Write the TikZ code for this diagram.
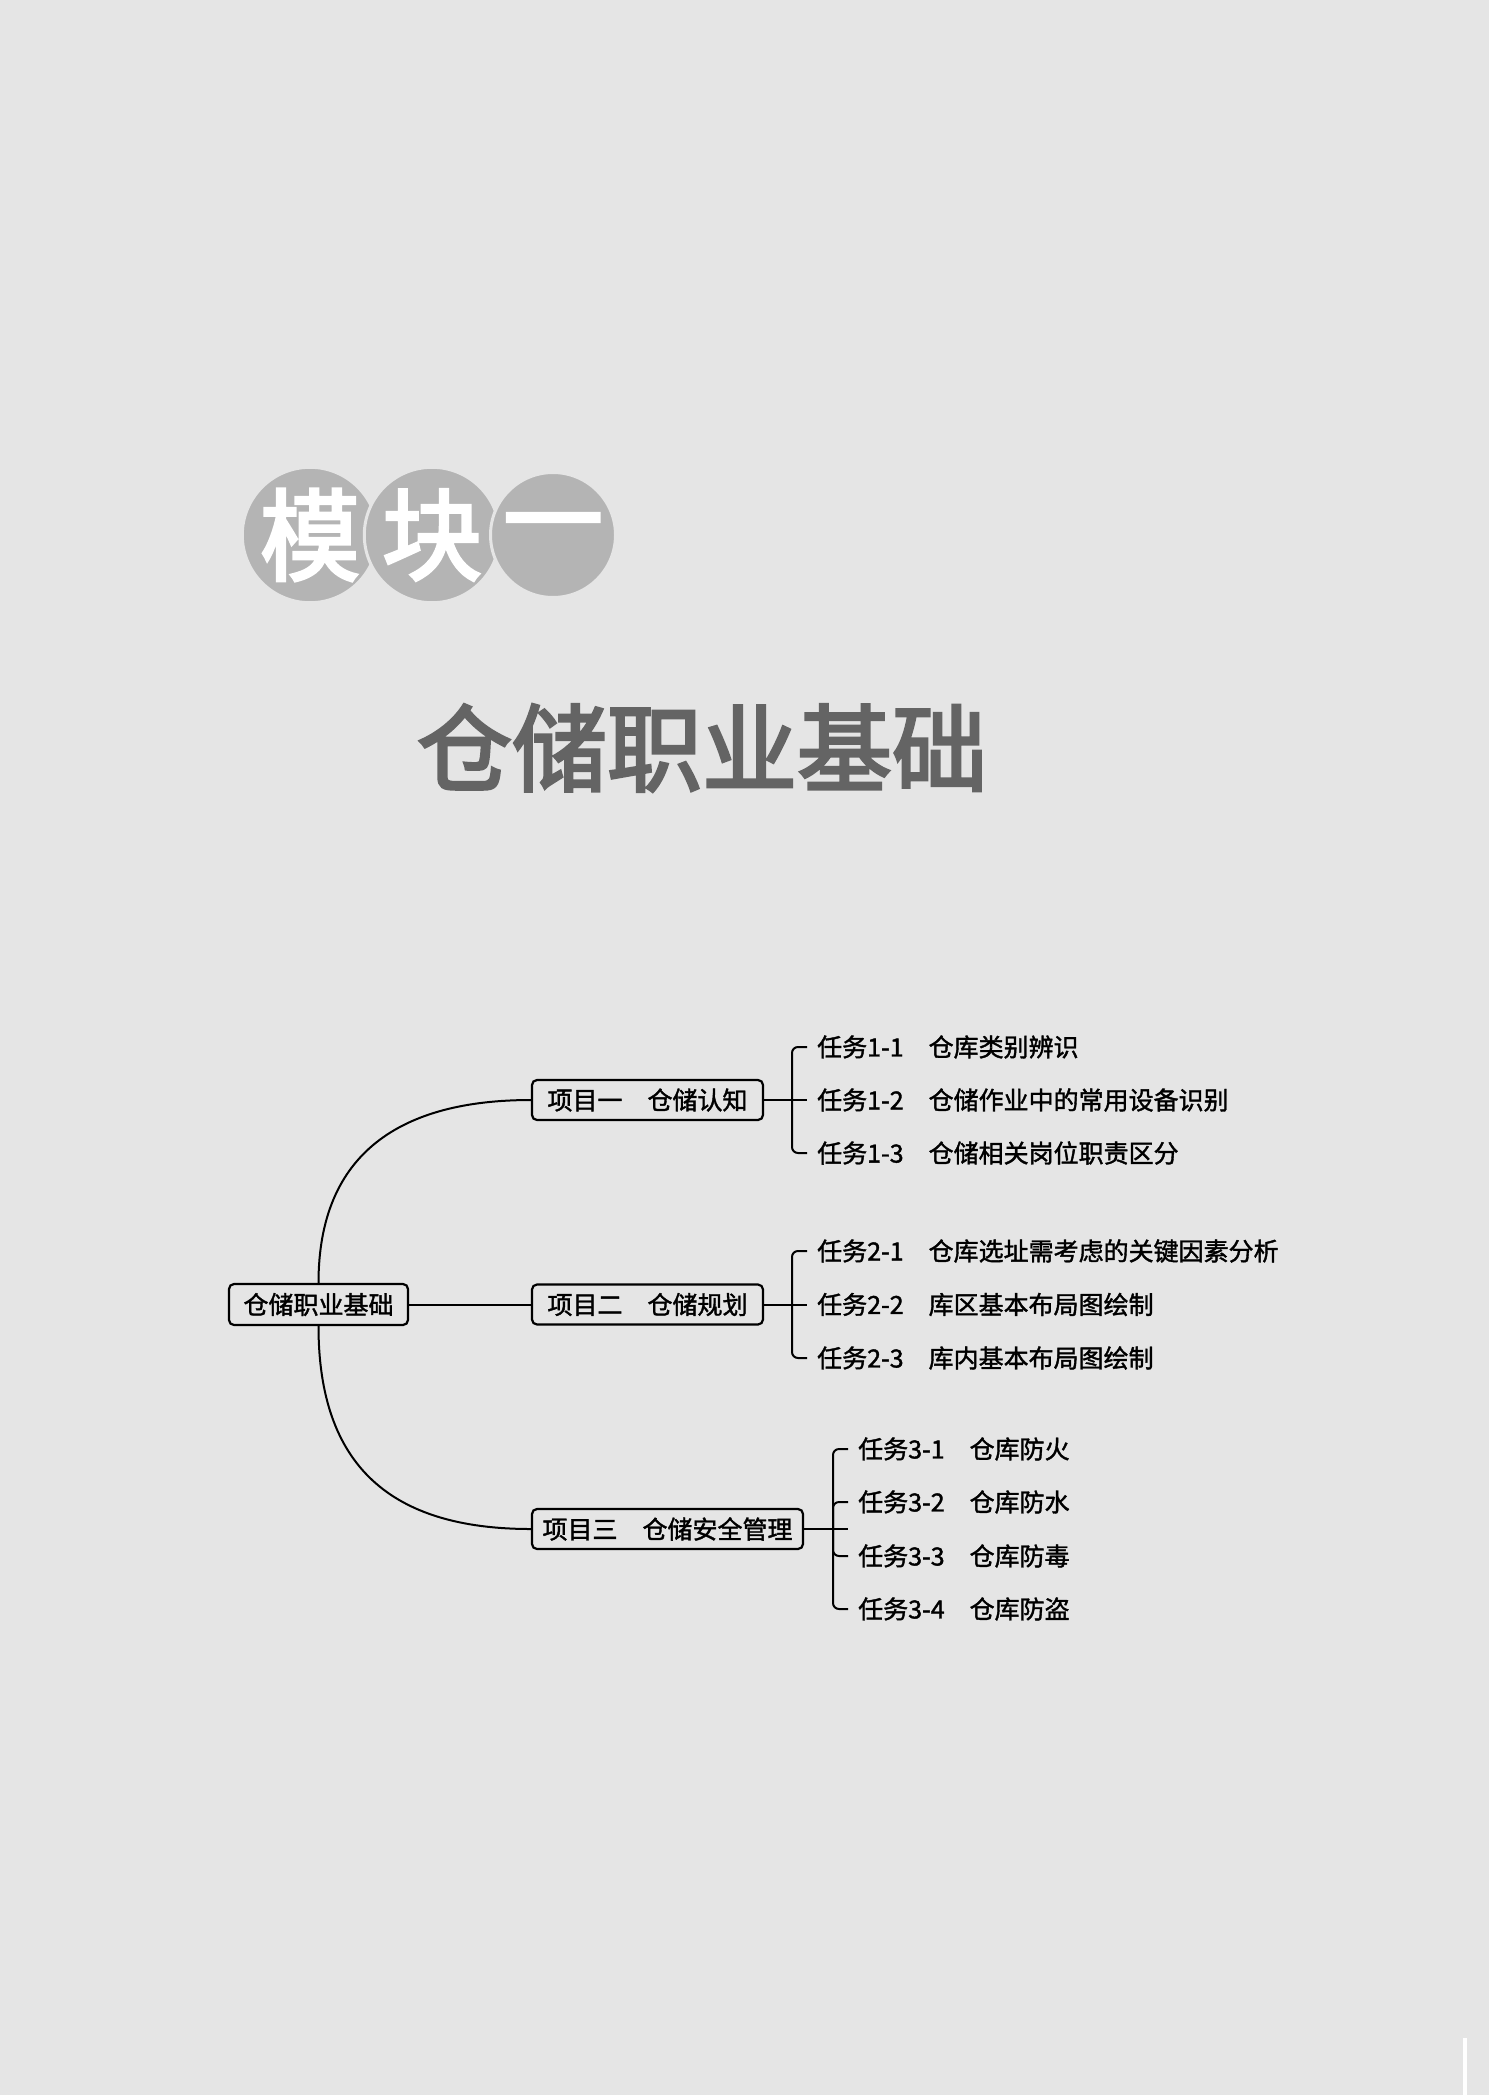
\documentclass[tikz,border=0pt]{standalone}
\usepackage{fontspec}
\setmainfont{Noto Sans CJK SC}
\newfontfamily\mapfont{Noto Sans CJK SC}[FakeBold=1.5]
\newfontfamily\titlefont{Noto Sans CJK SC}[FakeBold=3]
\usetikzlibrary{positioning,calc}

\definecolor{pagebg}{HTML}{E5E5E5}
\definecolor{discgray}{HTML}{B4B4B4}
\definecolor{titlegray}{HTML}{646464}

\begin{document}
\begin{tikzpicture}[x=1pt, y=-1pt, font=\mapfont\fontsize{25}{30}\selectfont,
  disc/.style={circle, fill=discgray, draw=pagebg, line width=3pt, minimum size=125pt, inner sep=0pt, text=white, font=\titlefont\fontsize{100}{100}\selectfont},
  rootbox/.style={draw, line width=2.2pt, rounded corners=5pt, minimum width=179pt, minimum height=41pt, inner sep=0pt},
  projbox/.style={draw, line width=2.2pt, rounded corners=5pt, minimum height=40pt, inner sep=0pt},
  task/.style={anchor=west, inner xsep=10pt, inner ysep=0pt},
  link/.style={line width=2pt},
  fork/.style={line width=2pt, rounded corners=6pt}]
  \useasboundingbox (0,0) rectangle (1497,2095);
  \fill[white] (0,0) rectangle (1497,2095);
  \fill[pagebg] (0,0) rectangle (1489,2095);
  \draw[white, line width=4pt] (1465,2038) -- (1465,2095);

  \node[disc] (mo)   at (310,535) {模};
  \node[disc] (kuai) at (432,535) {块};
  \node[disc] (yi)   at (553,535) {一};
  \node[text=titlegray, font=\titlefont\fontsize{95}{95}\selectfont] (title) at (702,748) {仓储职业基础};

  \node[rootbox] (root) at (318.5,1304.5) {仓储职业基础};
  \node[projbox, minimum width=231pt] (p1) at (647.5,1100)   {项目一\quad 仓储认知};
  \node[projbox, minimum width=231pt] (p2) at (647.5,1304.5) {项目二\quad 仓储规划};
  \node[projbox, minimum width=271pt] (p3) at (667.5,1529)   {项目三\quad 仓储安全管理};

  \node[task] (t11) at (807,1047)   {任务1-1\quad 仓库类别辨识};
  \node[task] (t12) at (807,1100)   {任务1-2\quad 仓储作业中的常用设备识别};
  \node[task] (t13) at (807,1153)   {任务1-3\quad 仓储相关岗位职责区分};
  \node[task] (t21) at (807,1251)   {任务2-1\quad 仓库选址需考虑的关键因素分析};
  \node[task] (t22) at (807,1304.5) {任务2-2\quad 库区基本布局图绘制};
  \node[task] (t23) at (807,1358)   {任务2-3\quad 库内基本布局图绘制};
  \node[task] (t31) at (848,1449)   {任务3-1\quad 仓库防火};
  \node[task] (t32) at (848,1502)   {任务3-2\quad 仓库防水};
  \node[task] (t33) at (848,1556)   {任务3-3\quad 仓库防毒};
  \node[task] (t34) at (848,1609)   {任务3-4\quad 仓库防盗};

  \draw[link] (root.north) .. controls +(0,-130) and +(-130,0) .. (p1.west);
  \draw[link] (root.east) -- (p2.west);
  \draw[link] (root.south) .. controls +(0,140) and +(-140,0) .. (p3.west);

  \coordinate (f1) at (792,1100);
  \coordinate (f2) at (792,1304.5);
  \coordinate (f3) at (833,1529);
  \coordinate (m3) at (848,1529);
  \draw[link] (p1.east) -- (t12.west);
  \draw[fork] (f1) |- (t11.west);
  \draw[fork] (f1) |- (t13.west);
  \draw[link] (p2.east) -- (t22.west);
  \draw[fork] (f2) |- (t21.west);
  \draw[fork] (f2) |- (t23.west);
  \draw[link] (p3.east) -- (m3);
  \foreach \t in {t31,t32,t33,t34}
    \draw[fork] (f3) |- (\t.west);
\end{tikzpicture}
\end{document}
